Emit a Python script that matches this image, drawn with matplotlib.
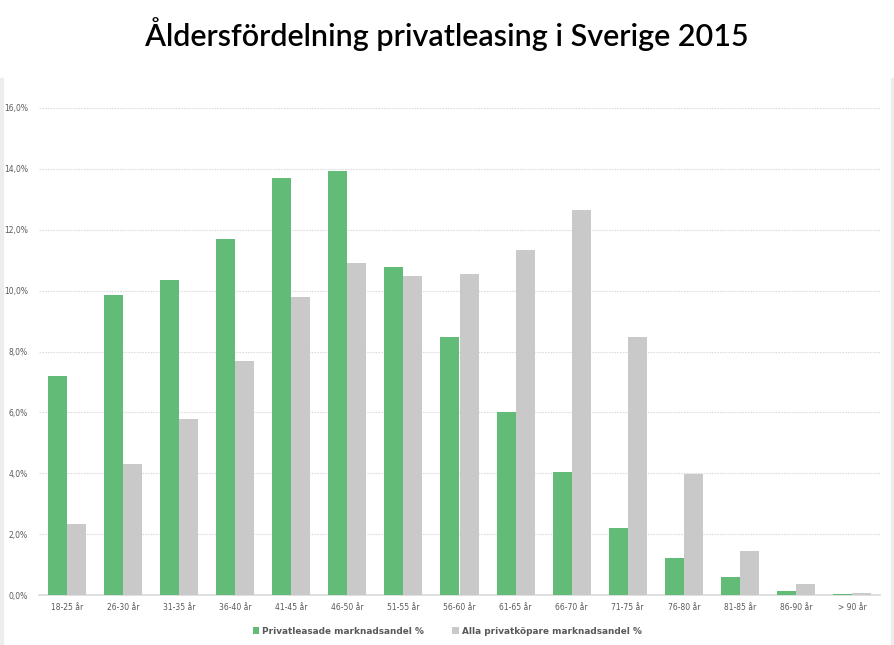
import matplotlib
matplotlib.use("Agg")
import matplotlib.pyplot as plt
from matplotlib.patches import Rectangle
from matplotlib.ticker import FuncFormatter
import numpy as np

# Data
categories = ["18-25 år", "26-30 år", "31-35 år", "36-40 år", "41-45 år",
              "46-50 år", "51-55 år", "56-60 år", "61-65 år", "66-70 år",
              "71-75 år", "76-80 år", "81-85 år", "86-90 år", "> 90 år"]
privatleasing = [7.2, 9.85, 10.35, 11.7, 13.7, 13.93, 10.78, 8.48, 6.0, 4.04,
                 2.2, 1.22, 0.59, 0.13, 0.02]
alla_privat = [2.33, 4.3, 5.78, 7.69, 9.79, 10.9, 10.48, 10.55, 11.33, 12.65,
               8.48, 3.97, 1.45, 0.36, 0.06]
series_names = ["Privatleasade marknadsandel %", "Alla privatköpare marknadsandel %"]

green = "#62BB76"
grey = "#C9C9C9"
text_col = "#595959"

fig = plt.figure(figsize=(8.94, 6.45), dpi=100)
fig.patch.set_facecolor("white")

# thin grey frame strips on the sides of the chart panel
for x0 in (0, 891):
    fig.patches.append(Rectangle((x0 / 894, 0), 3 / 894, 1 - 78 / 645,
                                 transform=fig.transFigure, color="#EDEDED", zorder=0))

fig.text(0.5, 0.947, "Åldersfördelning privatleasing i Sverige 2015",
         ha="center", va="center", fontsize=22, family="Lato", weight="semibold",
         color="black")

ax = fig.add_axes([39 / 894, 1 - 595 / 645, 841 / 894, 487 / 645])

x = np.arange(len(categories))
w = 0.34
ax.bar(x - w / 2, privatleasing, w, color=green, label=series_names[0], zorder=3)
ax.bar(x + w / 2, alla_privat, w, color=grey, label=series_names[1], zorder=3)

ax.set_xlim(-0.5, len(categories) - 0.5)
ax.set_ylim(0, 16)
ax.set_yticks(np.arange(0, 16.1, 2))
ax.yaxis.set_major_formatter(FuncFormatter(lambda v, p: f"{v:.1f}%".replace(".", ",")))
ax.set_xticks(x)
ax.set_xticklabels(categories)
ax.tick_params(axis="both", length=0, labelsize=5.5, labelcolor=text_col)
ax.tick_params(axis="x", pad=6)
ax.tick_params(axis="y", pad=8)

ax.grid(axis="y", color="#DCDCDC", linestyle=(0, (1.5, 1)), linewidth=0.8, zorder=0)
for s in ["top", "right", "left"]:
    ax.spines[s].set_visible(False)
ax.spines["bottom"].set_color("#D9D9D9")
ax.spines["bottom"].set_linewidth(1.2)

leg = fig.legend(loc="center", bbox_to_anchor=(0.5, 1 - 631 / 645), ncol=2,
                 frameon=False, fontsize=6.4, handlelength=0.75, handleheight=0.75,
                 handletextpad=0.3, columnspacing=3.2)
for t in leg.get_texts():
    t.set_color(text_col)
    t.set_fontweight("bold")

fig.savefig("out.png", dpi=100)
